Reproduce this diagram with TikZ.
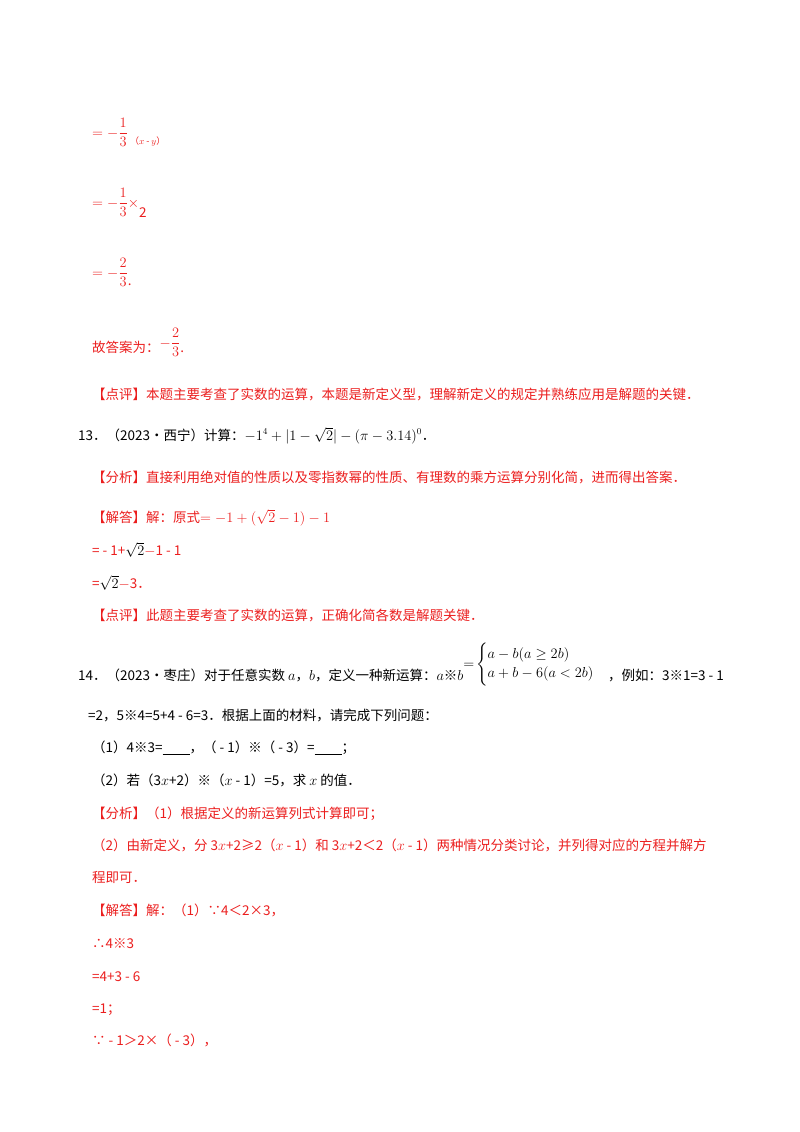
\documentclass[tikz,border=0pt]{standalone}
\usepackage{fontspec}
\usepackage{amsmath}
\setmainfont{Noto Sans CJK SC}
\definecolor{rd}{RGB}{235,30,30}
\begin{document}
\begin{tikzpicture}[x=1pt,y=-1pt,
 t/.style={anchor=base west,inner sep=0pt,font=\fontsize{13.5}{16}\selectfont},
 r/.style={t,text=rd}]
\useasboundingbox (0,0) rectangle (800,1132);
\node[r] (l1) at (92,137) {$=-\dfrac{1}{3}$\,\raisebox{-7pt}{\small（$x$ - $y$）}};
\node[r] (l2) at (92,207) {$=-\dfrac{1}{3}\times$\raisebox{-10pt}{2}};
\node[r] (l3) at (92,277) {$=-\dfrac{2}{3}$\raisebox{-8pt}{.}};
\node[r] (l4) at (92,352) {故答案为：\raisebox{5pt}{$-\dfrac{2}{3}$}.};
\node[r] (l5) at (92,399) {【点评】本题主要考查了实数的运算，本题是新定义型，理解新定义的规定并熟练应用是解题的关键．};
\node[t] (l6) at (78,440) {13．（2023•西宁）计算：$-1^4+|1-\sqrt{2}|-(\pi-3.14)^0$．};
\node[r] (l7) at (92,482) {【分析】直接利用绝对值的性质以及零指数幂的性质、有理数的乘方运算分别化简，进而得出答案．};
\node[r] (l8) at (92,522) {【解答】解：原式$=-1+(\sqrt{2}-1)-1$};
\node[r] (l9) at (92,555) {= - 1+{\color{black}$\sqrt{2}$}$-$1 - 1};
\node[r] (l10) at (92,588) {={\color{black}$\sqrt{2}$}$-$3．};
\node[r] (l11) at (92,620) {【点评】此题主要考查了实数的运算，正确化简各数是解题关键．};
\node[t] (l12) at (78,680) {14．（2023•枣庄）对于任意实数 $a$，$b$，定义一种新运算：$a$※$b$\raisebox{12pt}{$=\!\begin{cases}a-b(a\ge 2b)\\ a+b-6(a<2b)\end{cases}$}，例如：3※1=3 - 1};
\node[t] (l13) at (88,720) {=2，5※4=5+4 - 6=3．根据上面的材料，请完成下列问题：};
\node[t] (l14) at (92,752) {（1）4※3=\underline{\hspace{2em}}，（ - 1）※（ - 3）=\underline{\hspace{2em}}；};
\node[t] (l15) at (92,785) {（2）若（3$x$+2）※（$x$ - 1）=5，求 $x$ 的值．};
\node[r] (l16) at (92,818) {【分析】（1）根据定义的新运算列式计算即可；};
\node[r] (l17) at (92,850) {（2）由新定义，分 3$x$+2≥2（$x$ - 1）和 3$x$+2＜2（$x$ - 1）两种情况分类讨论，并列得对应的方程并解方};
\node[r] (l18) at (92,882) {程即可．};
\node[r] (l19) at (92,915) {【解答】解：（1）∵4＜2×3，};
\node[r] (l20) at (92,948) {∴4※3};
\node[r] (l21) at (92,981) {=4+3 - 6};
\node[r] (l22) at (92,1013) {=1；};
\node[r] (l23) at (92,1045) {∵ - 1＞2×（ - 3），};
\end{tikzpicture}
\end{document}
